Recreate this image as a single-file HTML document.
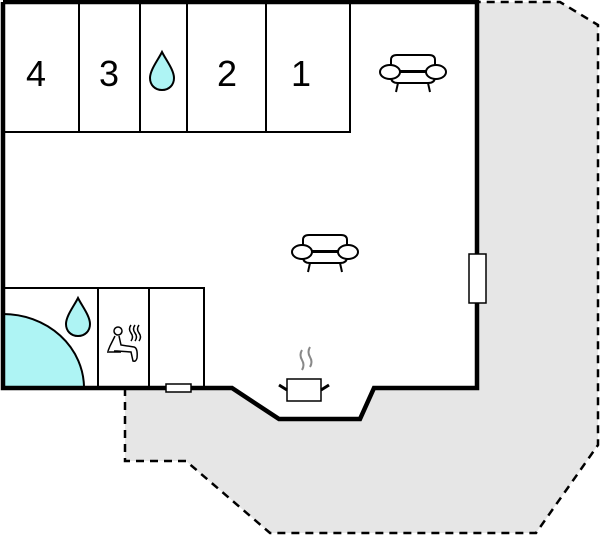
<!DOCTYPE html>
<html><head><meta charset="utf-8"><style>
html,body{margin:0;padding:0;background:#fff;}
svg{display:block;}
text{font-family:"Liberation Sans",sans-serif;}
</style></head><body>
<svg width="600" height="536" viewBox="0 0 600 536" xmlns="http://www.w3.org/2000/svg">
<defs>
<g id="sofa" fill="#fff" stroke="#000" stroke-width="2">
<path d="M-22 -1 V-12 Q-22 -17 -16 -17 H16 Q22 -17 22 -12 V-1 Z"/>
<path d="M-22 0 H22 V5 Q22 11 15 11 H-15 Q-22 11 -22 5 Z"/>
<line x1="-15" y1="11" x2="-17" y2="20"/>
<line x1="15" y1="11" x2="17" y2="20"/>
<ellipse cx="-23" cy="0" rx="10" ry="7"/>
<ellipse cx="23" cy="0" rx="10" ry="7"/>
</g>
<g id="drop" fill="#aef4f4" stroke="#000" stroke-width="2">
<path d="M0 -20 C4 -12 12 -2 12 6 C12 13 7 18 0 18 C-7 18 -12 13 -12 6 C-12 -2 -4 -12 0 -20 Z"/>
</g>
</defs>
<polygon points="125,388 232,388 279,419 360,419 374,388 477,388 477,2 560,2 598,25 598,445 536,533 270,533 186,461 125,461" fill="#e6e6e6"/>
<polyline points="125,388 125,461 186,461 270,533 536,533 598,445 598,25 560,2 477,2" fill="none" stroke="#000" stroke-width="2.5" stroke-dasharray="8,6"/>
<!-- interior white -->
<polygon points="3,2 477,2 477,388 374,388 360,419 279,419 232,388 3,388" fill="#fff"/>
<!-- upper rooms -->
<g fill="none" stroke="#000" stroke-width="2">
<polyline points="3,132 350,132 350,2"/>
<line x1="79" y1="2" x2="79" y2="132"/>
<line x1="140" y1="2" x2="140" y2="132"/>
<line x1="187" y1="2" x2="187" y2="132"/>
<line x1="266" y1="2" x2="266" y2="132"/>
<polyline points="3,288 204,288 204,388"/>
<line x1="98" y1="288" x2="98" y2="388"/>
<line x1="149" y1="288" x2="149" y2="388"/>
</g>
<text x="36" y="86" font-size="36" text-anchor="middle">4</text>
<text x="109" y="86" font-size="36" text-anchor="middle">3</text>
<text x="227" y="86" font-size="36" text-anchor="middle">2</text>
<text x="301" y="86" font-size="36" text-anchor="middle">1</text>
<use href="#drop" x="162" y="72"/>
<use href="#drop" x="78" y="318"/>
<path d="M3 314 A81 74 0 0 1 84 388 L3 388 Z" fill="#aef4f4" stroke="#000" stroke-width="2"/>
<!-- sauna -->
<g fill="none" stroke="#000" stroke-width="1.5">
<circle cx="118" cy="331" r="4"/>
<path d="M115 336 L110 346 L108 351 M119 336 L121 345 L134 347 Q138 348 137 358 Q136 362 133 361 L131 352 L117 351 L114 351"/>
<line x1="107" y1="352" x2="121" y2="352"/>
<path d="M131 325 q-3 4 0 8 q3 4 0 8 M135 325 q-3 4 0 8 q3 4 0 8 M139 325 q-3 4 0 8 q3 4 0 8"/>
</g>
<!-- pot -->
<g stroke="#000" fill="#fff">
<rect x="287" y="379" width="34" height="22" stroke-width="1.5"/>
<line x1="279" y1="385" x2="287" y2="390" stroke-width="3"/>
<line x1="329" y1="385" x2="321" y2="390" stroke-width="3"/>
<path d="M302 350 q-3 5 0 10 q3 5 0 10 M310 347 q-3 5 0 10 q3 5 0 10" fill="none" stroke="#888" stroke-width="2"/>
</g>
<use href="#sofa" x="413" y="72"/>
<use href="#sofa" x="325" y="252"/>
<!-- outer walls -->
<polyline points="3,2 477,2 477,388 374,388 360,419 279,419 232,388 3,388 3,2" fill="none" stroke="#000" stroke-width="4.5"/>
<rect x="166" y="384" width="25" height="8" fill="#fff" stroke="#000" stroke-width="1.5"/>
<rect x="469" y="254" width="17" height="49" fill="#fff" stroke="#000" stroke-width="1.5"/>
</svg>
</body></html>
